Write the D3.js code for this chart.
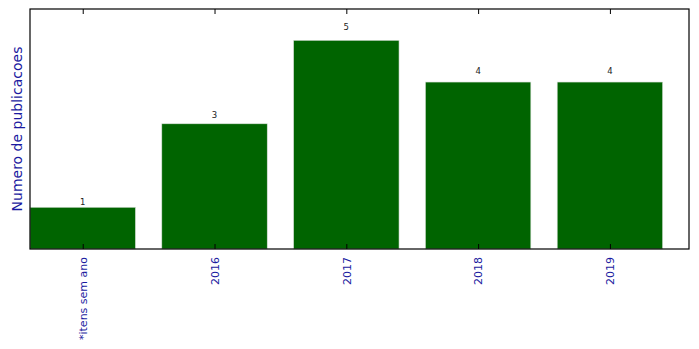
<!DOCTYPE html>
<html>
<head>
<meta charset="utf-8">
<script src="https://cdn.jsdelivr.net/npm/d3@7"></script>
<style>
  body { margin: 0; background: #fff; }
  text { font-family: "DejaVu Sans", sans-serif; }
</style>
</head>
<body>
<div id="vis"></div>
<script>
// data
var categories = ["*itens sem ano", "2016", "2017", "2018", "2019"];
var counts = [1, 3, 5, 4, 4];
var yLabel = "Numero de publicacoes";

var w = 699;
var h = 349;
var plotLeft = 30, plotTop = 9, plotRight = 689, plotBottom = 249;

var svg = d3.select("#vis").append("svg").attr("width", w).attr("height", h);

// x like matplotlib: index positions, bar width 0.8, xlim -0.4..4.6
var x = d3.scaleLinear().domain([-0.4, categories.length - 0.4]).range([plotLeft, plotRight]);
var y = d3.scaleLinear().domain([0, 5.75]).range([plotBottom, plotTop]);

svg.selectAll("rect.bar")
  .data(counts)
  .enter()
  .append("rect")
  .attr("class", "bar")
  .attr("x", function (d, i) { return x(i - 0.4); })
  .attr("width", function (d, i) { return x(i + 0.4) - x(i - 0.4); })
  .attr("y", function (d) { return y(d); })
  .attr("height", function (d) { return y(0) - y(d); })
  .attr("fill", "#006400")
  .attr("stroke", "#d8e0d8")
  .attr("stroke-width", 0.6);

// value labels
svg.selectAll("text.val")
  .data(counts)
  .enter()
  .append("text")
  .attr("class", "val")
  .attr("x", function (d, i) { return x(i); })
  .attr("y", function (d) { return y(d * 1.05); })
  .attr("text-anchor", "middle")
  .attr("font-size", "8.5px")
  .attr("fill", "#222")
  .text(function (d) { return d; });

// bottom axis, ticks inside
var xAxis = d3.axisBottom(x)
  .tickValues(d3.range(categories.length))
  .tickFormat(function (d) { return categories[d]; })
  .tickSizeInner(-5)
  .tickSizeOuter(0);

var gx = svg.append("g").attr("transform", "translate(0," + plotBottom + ")").call(xAxis);
gx.select(".domain").remove();
gx.selectAll("line").attr("stroke", "#000");
gx.selectAll("text")
  .attr("font-size", "11px")
  .attr("fill", "#1a1aa0")
  .attr("transform", "rotate(-90)")
  .attr("text-anchor", "end")
  .attr("x", -8)
  .attr("y", 0)
  .attr("dy", "0.35em");

// top ticks, no labels
var xTop = d3.axisTop(x)
  .tickValues(d3.range(categories.length))
  .tickFormat(function () { return ""; })
  .tickSizeInner(-5)
  .tickSizeOuter(0);
var gt = svg.append("g").attr("transform", "translate(0," + plotTop + ")").call(xTop);
gt.select(".domain").remove();
gt.selectAll("text").remove();
gt.selectAll("line").attr("stroke", "#000");

// frame
svg.append("rect")
  .attr("x", plotLeft)
  .attr("y", plotTop)
  .attr("width", plotRight - plotLeft)
  .attr("height", plotBottom - plotTop)
  .attr("fill", "none")
  .attr("stroke", "#000")
  .attr("stroke-width", 1.2);

// y label
svg.append("text")
  .attr("transform", "translate(17," + (plotTop + plotBottom) / 2 + ") rotate(-90)")
  .attr("text-anchor", "middle")
  .attr("dy", "0.35em")
  .attr("font-size", "14px")
  .attr("fill", "#1a1aa0")
  .text(yLabel);
</script>
</body>
</html>
